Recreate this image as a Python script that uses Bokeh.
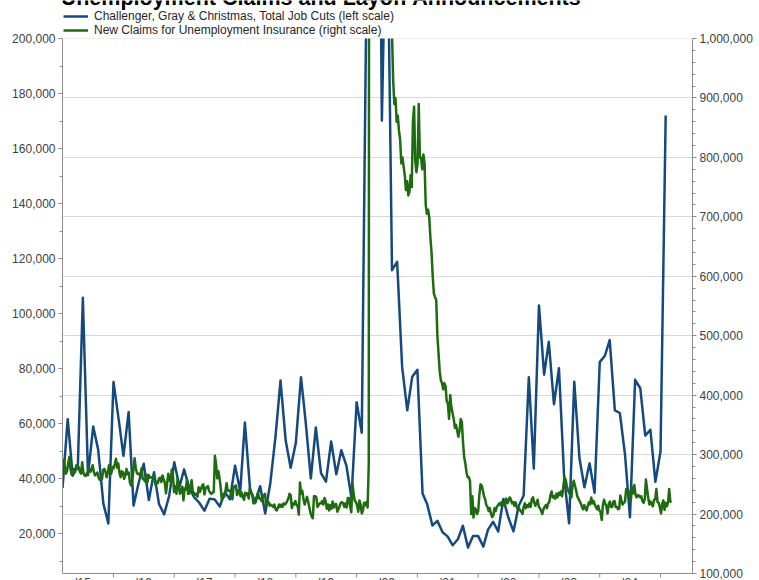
import numpy as np
import pandas as pd
from bokeh.plotting import figure
from bokeh.models import (Range1d, LinearAxis, FixedTicker, NumeralTickFormatter,
                          Grid, Label, Legend, LegendItem, ColumnDataSource,
                          BoxAnnotation, Span)
from bokeh.embed import file_html
from bokeh.resources import INLINE

TITLE = "New Unemployment Claims and Layoff Announcements"
SERIES_CUTS = "Challenger, Gray & Christmas, Total Job Cuts (left scale)"
SERIES_CLAIMS = "New Claims for Unemployment Insurance (right scale)"

# Challenger monthly job cuts, starting March 2015
cuts_start = "2015-03-01"
job_cuts = [
    36594, 61582, 41034, 44842, 105696, 41186, 58877, 50504, 30953, 23622,
    75114, 61599, 48207, 64141, 30157, 38536, 45346, 32188, 42271, 30740, 26936, 33627,
    45934, 36957, 43310, 36602, 33092, 31105, 28307, 32676, 32346, 29831, 35038, 32423,
    44653, 35369, 60357, 36081, 31517, 37202, 27300, 38472, 55285, 75600, 53800, 43884,
    52988, 76835, 60587, 40023, 58577, 41977, 38845, 53480, 41557, 50275, 44569, 32843,
    67735, 56660, 222288, 671129, 397016, 170219, 262649, 115762, 118804, 80666, 64797, 77030,
    79552, 34531, 30603, 22913, 24586, 20476, 18942, 15723, 17895, 22822, 14875, 19052,
    19064, 15245, 21387, 24286, 20712, 32517, 25810, 20781, 29989, 33843, 76835, 43651,
    102943, 77770, 89703, 66995, 80089, 40709, 23697, 75151, 47457, 36836, 45510, 34817,
    82307, 84638, 90309, 64789, 63816, 48786, 25885, 75891, 72821, 55597, 57727, 38792,
    49795, 172017,
]

# Weekly initial claims (thousands), weeks ending Saturday
claims_2015 = [293, 282, 268, 272, 285, 296, 275, 266, 270, 276, 271, 282, 276, 279, 271,
               268, 287, 270, 265, 264, 268, 272, 277, 271, 275, 282, 271, 265, 267, 270,
               262, 258, 262, 259, 274, 276, 271, 262, 270, 282, 274, 268, 279]
claims_2016 = [277, 284, 293, 278, 285, 269, 262, 272, 270, 259, 265, 276, 267, 270, 253,
               248, 257, 274, 294, 278, 269, 267, 268, 264, 277, 259, 258, 255, 266, 253,
               266, 261, 262, 262, 263, 260, 249, 254, 252, 260, 261, 254, 265, 258, 253,
               235, 251, 268, 258, 254, 275, 265, 237]
claims_2017 = [247, 234, 259, 246, 234, 239, 246, 223, 243, 241, 258, 234, 234, 244, 257,
               238, 236, 232, 234, 229, 245, 237, 242, 248, 250, 233, 244, 245, 247, 239,
               236, 234, 236, 237, 298, 284, 260, 272, 260, 244, 223, 233, 229, 238, 252,
               239, 240, 238, 236, 225, 245, 247]
claims_2018 = [248, 232, 240, 236, 230, 236, 228, 224, 236, 232, 235, 226, 244, 236, 233,
               218, 218, 220, 228, 236, 226, 226, 222, 228, 232, 234, 214, 222, 220, 214,
               216, 214, 212, 216, 208, 206, 210, 216, 212, 216, 212, 218, 216, 218, 222,
               226, 234, 232, 210, 218, 216, 222]
claims_2019 = [216, 213, 199, 253, 234, 239, 225, 216, 223, 229, 221, 211, 202, 196, 193,
               230, 230, 228, 212, 215, 218, 218, 222, 216, 227, 222, 209, 216, 206, 215,
               209, 221, 211, 216, 217, 204, 208, 213, 219, 220, 218, 212, 218, 211, 227,
               227, 213, 203, 252, 234, 222, 220]
claims_2020 = [214, 204, 223, 216, 201, 206, 219, 215, 220, 211, 282, 3307, 6867, 6615,
               5237, 4442, 3867, 3176, 2687, 2446, 2123, 1897, 1566, 1540, 1482, 1413, 1314,
               1422, 1435, 1186, 1010, 930, 890, 900, 860, 870, 845, 830, 790, 800, 785, 770,
               745, 760, 736, 742, 770, 750, 860, 885, 795, 775]
claims_2021 = [790, 890, 800, 800, 780, 805, 790, 720, 705, 712, 700, 665, 640, 600, 571,
               565, 560, 500, 470, 440, 425, 420, 410, 420, 415, 390, 386, 360, 400, 380,
               370, 360, 345, 350, 340, 330, 340, 360, 355, 320, 295, 285, 270, 262, 262,
               255, 200, 230, 194, 210, 208, 200]
claims_2022 = [205, 232, 250, 248, 240, 230, 225, 215, 212, 205, 210, 200, 195, 198, 210,
               205, 212, 215, 218, 215, 220, 218, 215, 222, 226, 218, 222, 228, 225, 218,
               220, 214, 220, 212, 208, 210, 206, 204, 200, 212, 218, 210, 215, 212, 218,
               212, 225, 228, 220, 214, 218, 224, 212]
claims_2023 = [210, 205, 200, 208, 212, 215, 210, 218, 220, 232, 238, 228, 230, 226, 234,
               228, 236, 232, 238, 230, 245, 262, 258, 248, 240, 236, 232, 228, 250, 256,
               248, 240, 230, 226, 222, 218, 212, 208, 215, 210, 206, 214, 220, 216, 228,
               218, 222, 216, 212, 208, 214, 206]
claims_2024 = [203, 190, 215, 224, 218, 213, 201, 217, 221, 212, 212, 221, 222, 212, 212,
               208, 209, 231, 222, 216, 219, 221, 242, 238, 233, 238, 222, 245, 235, 249,
               233, 228, 232, 231, 228, 230, 222, 219, 225, 258, 242, 227, 216, 221, 217,
               213, 224, 225, 242, 220, 219, 211]
claims_2025 = [201, 217, 223, 207, 219, 213, 219, 242, 221, 220]

claims_blocks = [
    ("2015-03-07", claims_2015), ("2016-01-02", claims_2016), ("2017-01-07", claims_2017),
    ("2018-01-06", claims_2018), ("2019-01-05", claims_2019), ("2020-01-04", claims_2020),
    ("2021-01-02", claims_2021), ("2022-01-01", claims_2022), ("2023-01-07", claims_2023),
    ("2024-01-06", claims_2024), ("2025-01-04", claims_2025),
]

year_labels = ["'15", "'16", "'17", "'18", "'19", "'20", "'21", "'22", "'23", "'24"]
year_label_pos = [2015.5, 2016.5, 2017.5, 2018.5, 2019.5, 2020.5, 2021.5, 2022.5, 2023.5, 2024.5]
year_bounds = [2016, 2017, 2018, 2019, 2020, 2021, 2022, 2023, 2024, 2025]

# axis extents (left scale / right scale)
LEFT_MIN, LEFT_MAX = 5455, 200000
RIGHT_MIN, RIGHT_MAX = 100000, 1000000


def frac_year(idx):
    days = np.where(idx.is_leap_year, 366.0, 365.0)
    return np.asarray(idx.year + (idx.dayofyear - 1) / days, dtype=float)


cut_dates = pd.date_range(cuts_start, periods=len(job_cuts), freq="MS")
cuts_src = ColumnDataSource(dict(x=frac_year(cut_dates), y=job_cuts))

cx, cy = [], []
for start, vals in claims_blocks:
    d = pd.date_range(start, periods=len(vals), freq="7D")
    cx.extend(frac_year(d).tolist())
    cy.extend([v * 1000 for v in vals])
claims_src = ColumnDataSource(dict(x=cx, y=cy))

BLUE = "#164A7E"
GREEN = "#1F6B10"
AXIS = "#8c8c8c"
TXT = "#404040"
FONT = "Liberation Sans"

# The plot area spans the full height (0..580 px); axis lines are bounded to the
# 38..573 px band, and a white mask hides everything above the top of the scales.
p = figure(width=759, height=580, output_backend="svg", toolbar_location=None,
           x_axis_location=None,
           x_range=Range1d(2015.161, 2025.526), y_range=Range1d(2909.1, 213818.2),
           min_border_left=62, min_border_right=67, min_border_top=0, min_border_bottom=0)
p.extra_y_ranges = {"right": Range1d(88224, 1063925)}
p.outline_line_color = None
p.xgrid.visible = False
p.ygrid.visible = False
p.background_fill_color = "white"
p.border_fill_color = "white"

la = p.yaxis[0]
la.bounds = (LEFT_MIN, LEFT_MAX)
la.ticker = FixedTicker(ticks=list(range(20000, 200001, 20000)),
                        minor_ticks=list(range(10000, 200000, 20000)))
la.formatter = NumeralTickFormatter(format="0,0")

ra = LinearAxis(y_range_name="right", bounds=(RIGHT_MIN, RIGHT_MAX),
                ticker=FixedTicker(ticks=list(range(100000, 1000001, 100000)),
                                   minor_ticks=list(range(100000, 1000001, 20000))),
                formatter=NumeralTickFormatter(format="0,0"))
p.add_layout(ra, "right")

for ax in (la, ra):
    ax.major_label_text_font = FONT
    ax.major_label_text_font_size = "12px"
    ax.major_label_text_color = TXT
    ax.axis_line_color = AXIS
    ax.major_tick_line_color = AXIS
    ax.minor_tick_line_color = AXIS
    ax.major_tick_in = 0
    ax.major_tick_out = 4
    ax.minor_tick_in = 0
    ax.minor_tick_out = 3
    ax.major_label_standoff = 3

grid = Grid(dimension=1, y_range_name="right",
            ticker=FixedTicker(ticks=list(range(200000, 1000001, 100000))),
            grid_line_color="#d9d9d9", grid_line_width=1)
p.add_layout(grid)

r1 = p.line("x", "y", source=cuts_src, line_color=BLUE, line_width=2.5, line_join="round")
r2 = p.line("x", "y", source=claims_src, line_color=GREEN, line_width=2.5,
            line_join="round", y_range_name="right")

# bottom axis: line, year-boundary ticks, and year labels (cut by the page edge)
p.add_layout(Span(location=LEFT_MIN, dimension="width", line_color=AXIS, line_width=1))
p.ray(x=year_bounds, y=[LEFT_MIN] * len(year_bounds), length=4, length_units="screen",
      angle=-np.pi / 2, line_color=AXIS, line_width=1)
p.text(x=year_label_pos, y=[LEFT_MIN] * len(year_label_pos), text=year_labels,
       y_offset=3, text_align="center", text_baseline="top",
       text_font={"value": FONT}, text_font_size="12px", text_color=TXT)

# mask above the top of the scales
p.add_layout(BoxAnnotation(bottom=LEFT_MAX, fill_color="white", fill_alpha=1.0,
                           line_color=None))

legend = Legend(items=[LegendItem(label=SERIES_CUTS, renderers=[r1]),
                       LegendItem(label=SERIES_CLAIMS, renderers=[r2])],
                location=(1, 543), orientation="vertical",
                border_line_color=None, background_fill_alpha=0,
                padding=0, margin=0, spacing=0,
                glyph_width=25, glyph_height=14, label_height=14,
                label_standoff=6, label_text_font=FONT, label_text_font_size="12px",
                label_text_color="#262626")
p.add_layout(legend)

p.add_layout(Label(x=-52, y=583, x_units="screen", y_units="screen", text=TITLE,
                   text_font=FONT, text_font_style="bold", text_font_size="21.5px",
                   text_color="black", text_baseline="alphabetic"))

open("out.html", "w").write(file_html(p, INLINE))
